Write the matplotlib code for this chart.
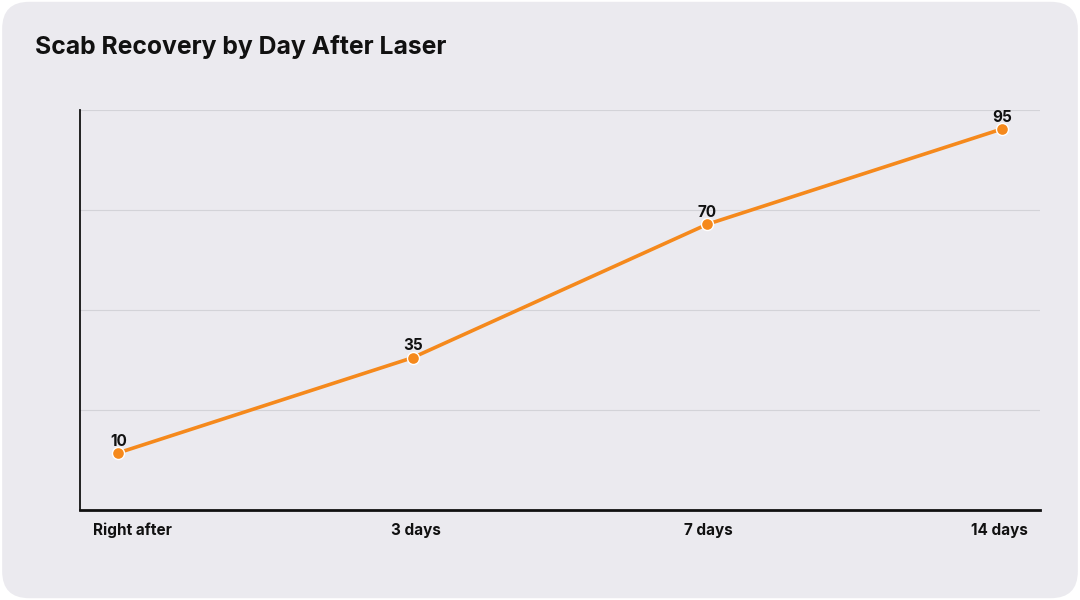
import matplotlib.pyplot as plt
import matplotlib.transforms as mtransforms
import numpy as np
from matplotlib.patches import FancyBboxPatch

plt.rcParams['font.family'] = ['Inter', 'DejaVu Sans']

# данные
stages = ['Right after', '3 days', '7 days', '14 days']
recovery = [10, 35, 70, 95]

orange = '#f5891c'
bg = '#ebeaef'

fig = plt.figure(figsize=(10.8, 6), dpi=100)
fig.patch.set_facecolor('white')
card = FancyBboxPatch((0.002, 0.003), 0.996, 0.994,
                      boxstyle='round,pad=0,rounding_size=0.025',
                      transform=fig.transFigure, facecolor=bg, edgecolor='none',
                      mutation_aspect=1.8, zorder=-10)
fig.patches.append(card)

ax = fig.add_axes([80 / 1080, 90 / 600, 960 / 1080, 400 / 600])
ax.set_facecolor('none')

x = np.arange(len(stages))
ax.plot(x, recovery, color=orange, lw=2.6, zorder=3, solid_capstyle='round')
ax.scatter(x, recovery, s=75, color=orange, edgecolor='white', linewidth=1.0, zorder=4)

for xi, v in zip(x, recovery):
    ax.annotate(str(v), (xi, v), xytext=(0, 3), textcoords='offset points',
                ha='center', va='bottom', fontsize=11, fontweight='bold', color='#111111')

ax.set_xlim(-0.13, 3.13)
ax.set_ylim(-5, 100)
ax.set_yticks(np.linspace(-5, 100, 5))
ax.set_yticklabels([])
ax.tick_params(axis='y', length=0)
ax.grid(axis='y', color='#d3d3d8', lw=0.8)
ax.set_axisbelow(True)

ax.set_xticks(x)
ax.set_xticklabels(stages, fontsize=11, fontweight='bold', color='#111111')
ax.tick_params(axis='x', length=0, pad=9)

# первая подпись сдвинута внутрь, как в оригинале
shifts = [14, 3, 1, -2]
for lab, dx in zip(ax.get_xticklabels(), shifts):
    lab.set_transform(lab.get_transform() +
                      mtransforms.ScaledTranslation(dx / 100, 0, fig.dpi_scale_trans))

for s in ['top', 'right']:
    ax.spines[s].set_visible(False)
ax.spines['left'].set_color('#111111')
ax.spines['left'].set_linewidth(1.3)
ax.spines['bottom'].set_color('#111111')
ax.spines['bottom'].set_linewidth(2)

fig.text(35 / 1080, 1 - 47 / 600, 'Scab Recovery by Day After Laser', fontsize=17.8,
         fontweight='bold', color='#111111', ha='left', va='center')

fig.savefig('out.png', dpi=100, facecolor=fig.get_facecolor())
